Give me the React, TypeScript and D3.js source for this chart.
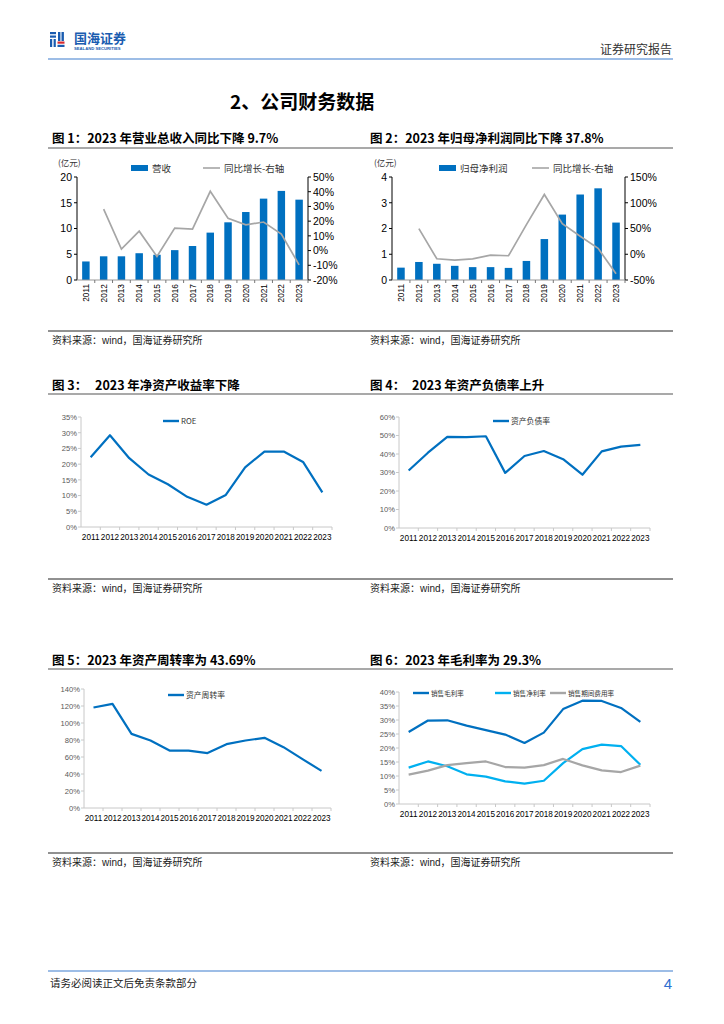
import React from 'react';
import * as d3 from 'd3';

// ---- data ----
const years = ['2011', '2012', '2013', '2014', '2015', '2016', '2017', '2018', '2019', '2020', '2021', '2022', '2023'];

// 图1 营业总收入（亿元）与同比
const revenue = [3.6, 4.6, 4.6, 5.2, 4.9, 5.8, 6.6, 9.2, 11.2, 13.2, 15.8, 17.3, 15.6];
const revenueYoy: (number | null)[] = [null, 28.2, 1.0, 13.2, -4.0, 15.3, 14.6, 40.3, 22.0, 17.5, 19.4, 11.2, -9.7];

// 图2 归母净利润（亿元）与同比
const netProfit = [0.48, 0.7, 0.63, 0.55, 0.5, 0.5, 0.47, 0.74, 1.59, 2.54, 3.32, 3.56, 2.23];
const netProfitYoy: (number | null)[] = [null, 49.8, -8.8, -11.4, -8.8, -1.6, -2.9, 57.6, 116, 59.3, 34.9, 11.4, -37.8];

// 图3-6 (%)
const roe = [22.2, 29.2, 21.9, 16.7, 13.6, 9.6, 7.1, 10.2, 19.0, 24.0, 24.0, 20.7, 11.0];
const debtRatio = [31.1, 40.7, 49.3, 49.1, 49.6, 29.8, 38.9, 41.6, 37.2, 28.8, 41.4, 44.0, 44.9];
const assetTurnover = [118.2, 122.5, 87.2, 79.4, 67.6, 67.6, 64.6, 75.1, 79.4, 82.6, 71.6, 57.5, 43.69];
const grossMargin = [25.7, 29.8, 29.9, 28.0, 26.4, 24.8, 21.8, 25.5, 33.9, 36.9, 36.8, 34.3, 29.3];
const netMargin = [13.0, 15.2, 13.5, 10.6, 9.8, 8.1, 7.3, 8.3, 14.6, 19.6, 21.2, 20.7, 14.0];
const expenseRatio = [10.5, 11.9, 13.9, 14.6, 15.2, 13.2, 13.0, 13.9, 16.1, 13.8, 12.0, 11.4, 13.7];

// ticks
const revenueTicks = [0, 5, 10, 15, 20];
const revenueYoyTicks = [-20, -10, 0, 10, 20, 30, 40, 50];
const profitTicks = [0, 1, 2, 3, 4];
const profitYoyTicks = [-50, 0, 50, 100, 150];

const LATIN = '"Liberation Sans", Arial, sans-serif';
const CJK = '"Noto Sans CJK SC", "Liberation Sans", sans-serif';
const BLUE = '#0070C0';
const LIGHT_BLUE = '#00B0F0';
const GRAY = '#A6A6A6';

interface BarLineProps {
  left: number; right: number; top: number; bottom: number;
  bars: number[]; yoy: (number | null)[];
  leftTicks: number[]; rightTicks: number[];
  barName: string; lineName: string;
  unitX: number; barLegendX: number; lineLegendX: number;
}

function BarLineChart(p: BarLineProps) {
  const x = d3.scaleBand<string>().domain(years).range([p.left, p.right]).paddingInner(0.58).paddingOuter(0.29);
  const yL = d3.scaleLinear().domain(d3.extent(p.leftTicks) as [number, number]).range([p.bottom, p.top]);
  const yR = d3.scaleLinear().domain(d3.extent(p.rightTicks) as [number, number]).range([p.bottom, p.top]);
  const cx = (d: string) => (x(d) || 0) + x.bandwidth() / 2;
  const line = d3.line<number | null>()
    .defined(d => d !== null)
    .x((_, i) => cx(years[i]))
    .y(d => yR(d as number));
  const step = x.step();
  const legendY = p.top - 9;

  return (
    <g>
      <text x={p.unitX} y={p.top - 11} fontFamily={CJK} fontSize={8.5} fill="#333">(亿元)</text>
      <rect x={p.barLegendX} y={legendY - 3} width={17} height={6} fill={BLUE} />
      <text x={p.barLegendX + 21} y={legendY + 3.5} fontFamily={CJK} fontSize={9.5} fill="#333">{p.barName}</text>
      <line x1={p.lineLegendX} x2={p.lineLegendX + 17} y1={legendY} y2={legendY} stroke={GRAY} strokeWidth={1.6} />
      <text x={p.lineLegendX + 21} y={legendY + 3.5} fontFamily={CJK} fontSize={9.5} fill="#333">{p.lineName}</text>

      {p.bars.map((v, i) => (
        <rect key={years[i]} x={x(years[i])} y={yL(v)} width={x.bandwidth()} height={p.bottom - yL(v)} fill={BLUE} />
      ))}
      <path d={line(p.yoy) || ''} fill="none" stroke={GRAY} strokeWidth={1.7} />

      {/* left axis */}
      <line x1={p.left} x2={p.left} y1={p.top} y2={p.bottom} stroke="#000" strokeWidth={1} />
      {p.leftTicks.map(t => (
        <g key={'l' + t}>
          <line x1={p.left - 3} x2={p.left} y1={yL(t)} y2={yL(t)} stroke="#000" />
          <text x={p.left - 5} y={yL(t) + 3.8} textAnchor="end" fontFamily={LATIN} fontSize={10.5} fill="#000">{t}</text>
        </g>
      ))}
      {/* right axis */}
      <line x1={p.right} x2={p.right} y1={p.top} y2={p.bottom} stroke="#000" strokeWidth={1} />
      {p.rightTicks.map(t => (
        <g key={'r' + t}>
          <line x1={p.right} x2={p.right + 3} y1={yR(t)} y2={yR(t)} stroke="#000" />
          <text x={p.right + 5} y={yR(t) + 3.8} fontFamily={LATIN} fontSize={10.5} fill="#000">{t}%</text>
        </g>
      ))}
      {/* bottom axis */}
      <line x1={p.left} x2={p.right} y1={p.bottom} y2={p.bottom} stroke="#999" strokeWidth={1} />
      {years.map((yr, i) => (
        <g key={'x' + yr}>
          <line x1={p.left + step * (i + 1)} x2={p.left + step * (i + 1)} y1={p.bottom} y2={p.bottom + 3} stroke="#777" />
          <text transform={`translate(${cx(yr) + 3},${p.bottom + 4}) rotate(-90)`} textAnchor="end"
            fontFamily={LATIN} fontSize={8.3} fill="#000">{yr}</text>
        </g>
      ))}
    </g>
  );
}

interface Series { values: number[]; color: string; name: string; legendX: number; }
interface LineProps {
  left: number; right: number; top: number; bottom: number;
  yMax: number; yStep: number; series: Series[]; legendY: number; legendFont?: number;
}

function LineChart(p: LineProps) {
  const x = d3.scaleBand<string>().domain(years).range([p.left, p.right]);
  const y = d3.scaleLinear().domain([0, p.yMax]).range([p.bottom, p.top]);
  const ticks = d3.range(0, p.yMax + p.yStep / 2, p.yStep);
  const cx = (d: string) => (x(d) || 0) + x.bandwidth() / 2;
  const line = d3.line<number>().x((_, i) => cx(years[i])).y(d => y(d));
  const step = x.step();
  const lf = p.legendFont || 7.8;
  return (
    <g>
      <line x1={p.left} x2={p.left} y1={p.top} y2={p.bottom} stroke="#c8c8c8" />
      {ticks.map(t => (
        <g key={t}>
          <line x1={p.left - 3} x2={p.left} y1={y(t)} y2={y(t)} stroke="#c8c8c8" />
          <text x={p.left - 4} y={y(t) + 2.8} textAnchor="end" fontFamily={LATIN} fontSize={7.6} fill="#595959">{t}%</text>
        </g>
      ))}
      <line x1={p.left} x2={p.right} y1={p.bottom} y2={p.bottom} stroke="#c8c8c8" />
      {years.map((yr, i) => (
        <g key={yr}>
          <line x1={p.left + step * (i + 1)} x2={p.left + step * (i + 1)} y1={p.bottom} y2={p.bottom + 3} stroke="#c8c8c8" />
          <text x={cx(yr)} y={p.bottom + 13} textAnchor="middle" fontFamily={LATIN} fontSize={8.2} fill="#000">{yr}</text>
        </g>
      ))}
      {p.series.map(s => (
        <g key={s.name}>
          <path d={line(s.values) || ''} fill="none" stroke={s.color} strokeWidth={2.2} strokeLinejoin="round" />
          <line x1={s.legendX} x2={s.legendX + 16} y1={p.legendY} y2={p.legendY} stroke={s.color} strokeWidth={2.4} />
          <text x={s.legendX + 18} y={p.legendY + lf * 0.38} fontFamily={CJK} fontSize={lf} fill="#333">{s.name}</text>
        </g>
      ))}
    </g>
  );
}

function FigTitle({ x, y, label, text, gap }: { x: number; y: number; label: string; text: string; gap?: number }) {
  if (gap) {
    return (
      <g fontFamily={CJK} fontWeight={700} fontSize={12.5} fill="#000">
        <text x={x} y={y}>{label}</text>
        <text x={x + gap} y={y}>{text}</text>
      </g>
    );
  }
  return <text x={x} y={y} fontFamily={CJK} fontWeight={700} fontSize={12.5} fill="#000">{label}{text}</text>;
}

function Source({ x, y }: { x: number; y: number }) {
  return (
    <text x={x} y={y} fontFamily={CJK} fontSize={10} fill="#222">
      资料来源：<tspan fontFamily={LATIN}>wind</tspan>，国海证券研究所
    </text>
  );
}

export default function App() {
  return (
    <svg width={724} height={1024} viewBox="0 0 724 1024"
      style={{ position: 'absolute', left: 0, top: 0, background: '#fff' }}>
      {/* header */}
      <g>
        <rect x={50} y={32} width={6} height={2.2} fill="#1a5cb0" />
        <rect x={50} y={35.5} width={6} height={2.2} fill="#1a5cb0" />
        <rect x={50} y={39} width={2.2} height={8} fill="#1a5cb0" />
        <rect x={53.6} y={39} width={2.2} height={8} fill="#1a5cb0" />
        <rect x={58} y={32} width={2.4} height={9} fill="#1a5cb0" />
        <rect x={61.5} y={32} width={2.4} height={9} fill="#1a5cb0" />
        <rect x={57.5} y={41.5} width={7} height={2.2} fill="#d7282f" />
        <rect x={57.5} y={44.8} width={7} height={2.2} fill="#1a5cb0" />
        <text x={74} y={43} fontFamily={CJK} fontWeight={700} fontSize={13} fill="#1a5cb0">国海证券</text>
        <text x={74} y={50} fontFamily={LATIN} fontSize={4.2} fill="#1a5cb0" fontWeight={700}>SEALAND SECURITIES</text>
        <text x={672} y={54} textAnchor="end" fontFamily={CJK} fontSize={12} fill="#333">证券研究报告</text>
        <line x1={48} x2={673} y1={59} y2={59} stroke="#9dbde6" strokeWidth={1.8} />
      </g>

      <text x={230} y={109} fontFamily={CJK} fontWeight={700} fontSize={19} fill="#000">2、公司财务数据</text>

      {/* row 1 */}
      <FigTitle x={52} y={143} label="图 1：" text="2023 年营业总收入同比下降 9.7%" />
      <FigTitle x={370} y={143} label="图 2：" text="2023 年归母净利润同比下降 37.8%" />
      <line x1={48} x2={673} y1={148} y2={148} stroke="#555" strokeWidth={1.2} />
      <BarLineChart left={77} right={308} top={177} bottom={280}
        bars={revenue} yoy={revenueYoy} leftTicks={revenueTicks} rightTicks={revenueYoyTicks}
        barName="营收" lineName="同比增长-右轴" unitX={58} barLegendX={131} lineLegendX={203} />
      <BarLineChart left={392} right={625} top={177} bottom={280}
        bars={netProfit} yoy={netProfitYoy} leftTicks={profitTicks} rightTicks={profitYoyTicks}
        barName="归母净利润" lineName="同比增长-右轴" unitX={374} barLegendX={439} lineLegendX={532} />
      <line x1={48} x2={673} y1={331} y2={331} stroke="#222" strokeWidth={1} />
      <Source x={52} y={344} />
      <Source x={370} y={344} />

      {/* row 2 */}
      <FigTitle x={52} y={390} label="图 3：" text="2023 年净资产收益率下降" gap={43} />
      <FigTitle x={370} y={390} label="图 4：" text="2023 年资产负债率上升" gap={42} />
      <line x1={48} x2={673} y1={394} y2={394} stroke="#555" strokeWidth={1.2} />
      <LineChart left={81} right={332} top={417} bottom={527} yMax={35} yStep={5} legendY={421}
        series={[{ values: roe, color: BLUE, name: 'ROE', legendX: 163 }]} />
      <LineChart left={399} right={650} top={417} bottom={528} yMax={60} yStep={10} legendY={421}
        series={[{ values: debtRatio, color: BLUE, name: '资产负债率', legendX: 493 }]} />
      <line x1={48} x2={673} y1={579} y2={579} stroke="#222" strokeWidth={1} />
      <Source x={52} y={592} />
      <Source x={370} y={592} />

      {/* row 3 */}
      <FigTitle x={52} y={665} label="图 5：" text="2023 年资产周转率为 43.69%" />
      <FigTitle x={370} y={665} label="图 6：" text="2023 年毛利率为 29.3%" />
      <line x1={48} x2={673} y1={669} y2={669} stroke="#555" strokeWidth={1.2} />
      <LineChart left={84} right={331} top={689} bottom={808} yMax={140} yStep={20} legendY={695}
        series={[{ values: assetTurnover, color: BLUE, name: '资产周转率', legendX: 168 }]} />
      <LineChart left={399} right={650} top={692} bottom={804} yMax={40} yStep={5} legendY={693} legendFont={6.6}
        series={[
          { values: grossMargin, color: BLUE, name: '销售毛利率', legendX: 413 },
          { values: netMargin, color: LIGHT_BLUE, name: '销售净利率', legendX: 495 },
          { values: expenseRatio, color: GRAY, name: '销售期间费用率', legendX: 550 },
        ]} />
      <line x1={48} x2={673} y1={853} y2={853} stroke="#222" strokeWidth={1} />
      <Source x={52} y={866} />
      <Source x={370} y={866} />

      {/* footer */}
      <line x1={48} x2={673} y1={971} y2={971} stroke="#9dbde6" strokeWidth={1.8} />
      <text x={50} y={987} fontFamily={CJK} fontSize={10.5} fill="#222">请务必阅读正文后免责条款部分</text>
      <text x={672} y={989} textAnchor="end" fontFamily={LATIN} fontSize={15} fill="#2f6fd0">4</text>
    </svg>
  );
}
